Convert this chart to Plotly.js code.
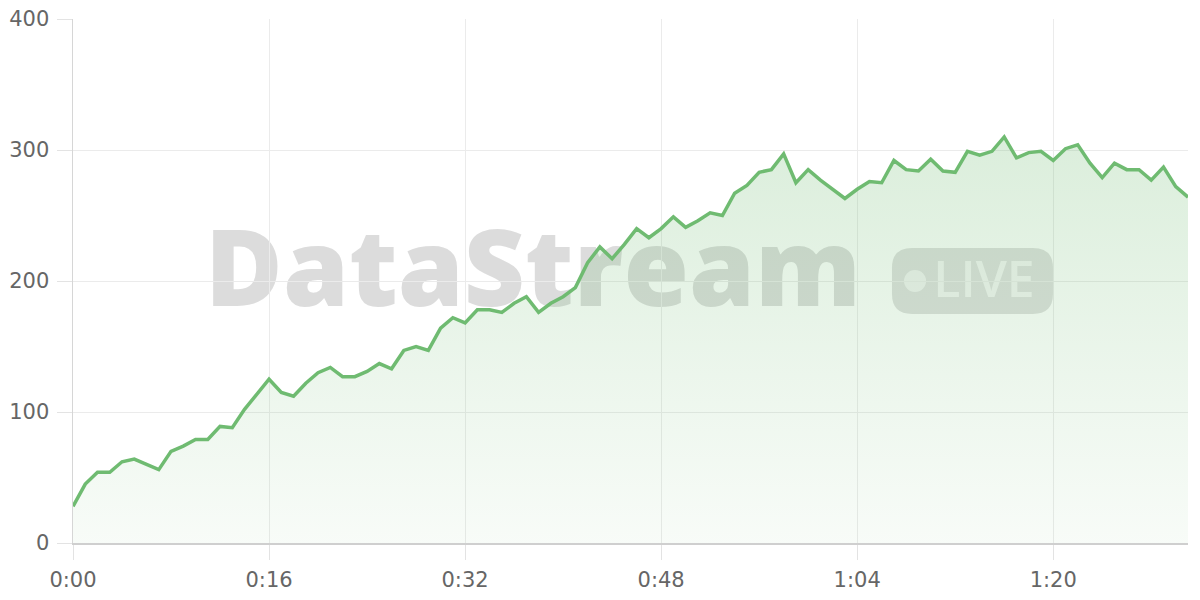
<!DOCTYPE html>
<html>
<head>
<meta charset="utf-8">
<script src="https://cdn.plot.ly/plotly-3.0.1.min.js"></script>
<style>
html,body{margin:0;padding:0;background:#fff;}
#chart{width:1200px;height:600px;}
</style>
</head>
<body>
<div id="chart"></div>
<script>
// elapsed seconds
const seconds = [0,1,2,3,4,5,6,7,8,9,10,11,12,13,14,15,16,17,18,19,20,21,22,23,24,25,26,27,28,29,30,
  31,32,33,34,35,36,37,38,39,40,41,42,43,44,45,46,47,48,49,50,51,52,53,54,55,56,57,58,59,60,
  61,62,63,64,65,66,67,68,69,70,71,72,73,74,75,76,77,78,79,80,81,82,83,84,85,86,87,88,89,90,91];
// streamed values
const values = [28,45,54,54,62,64,60,56,70,74,79,79,89,88,102,113,125,
  115,112,122,130,134,127,127,131,137,133,147,150,147,164,172,168,
  178,178,176,183,188,176,183,188,195,214,226,217,228,240,233,240,
  249,241,246,252,250,267,273,283,285,297,275,285,277,270,263,270,276,275,
  292,285,284,293,284,283,299,296,299,310,294,298,299,292,
  301,304,290,279,290,285,285,277,287,272,264];
const tickVals = [0,16,32,48,64,80];
const tickText = ["0:00","0:16","0:32","0:48","1:04","1:20"];
const yTicks = [0,100,200,300,400];
const watermarkText = "DataStream";
const badgeText = "LIVE";

const green = "#6fbb71";
const tickFontFamily = "'DejaVu Sans', Inter, sans-serif";

const trace = {
  x: seconds,
  y: values,
  type: "scatter",
  mode: "lines",
  line: {color: green, width: 3.5, shape: "linear"},
  fill: "tozeroy",
  fillgradient: {
    type: "vertical",
    start: 0,
    stop: 310,
    colorscale: [[0, "rgba(111,187,113,0.05)"], [1, "rgba(111,187,113,0.25)"]]
  },
  hoverinfo: "skip"
};

// badge geometry (paper coords)
const bx0 = 0.7345, bx1 = 0.8789, by0 = 0.437, by1 = 0.563;
const rx = 0.018, ry = 0.038;
const badgePath = `M ${bx0+rx},${by0} L ${bx1-rx},${by0} Q ${bx1},${by0} ${bx1},${by0+ry} L ${bx1},${by1-ry} Q ${bx1},${by1} ${bx1-rx},${by1} L ${bx0+rx},${by1} Q ${bx0},${by1} ${bx0},${by1-ry} L ${bx0},${by0+ry} Q ${bx0},${by0} ${bx0+rx},${by0} Z`;

const layout = {
  width: 1200,
  height: 600,
  margin: {l: 73, r: 12, t: 19, b: 57},
  paper_bgcolor: "#ffffff",
  plot_bgcolor: "#ffffff",
  showlegend: false,
  font: {family: tickFontFamily, color: "#666666", size: 21},
  xaxis: {
    range: [0, 91],
    tickvals: tickVals,
    ticktext: tickText,
    showgrid: true,
    gridcolor: "#ebebeb",
    gridwidth: 1,
    showline: true,
    linecolor: "#cfcfcf",
    linewidth: 1.5,
    ticks: "outside",
    ticklen: 15,
    tickcolor: "#e3e3e3",
    tickwidth: 1,
    zeroline: false,
    ticklabelstandoff: 2,
    tickfont: {family: tickFontFamily, size: 21, color: "#666666"},
    fixedrange: true
  },
  yaxis: {
    range: [0, 400],
    tickvals: yTicks,
    showgrid: true,
    gridcolor: "#ebebeb",
    gridwidth: 1,
    showline: true,
    linecolor: "#d6d6d6",
    linewidth: 1.5,
    ticks: "outside",
    ticklen: 15,
    tickcolor: "#e3e3e3",
    tickwidth: 1,
    zeroline: false,
    ticklabelstandoff: 3,
    tickfont: {family: tickFontFamily, size: 21, color: "#666666"},
    fixedrange: true
  },
  shapes: [
    {
      type: "rect", xref: "paper", yref: "paper", layer: "between",
      x0: 0.1126, x1: 0.7126, y0: 0.417, y1: 0.617,
      line: {width: 0}, fillcolor: "rgba(0,0,0,0)",
      label: {
        text: watermarkText,
        textposition: "middle center",
        font: {family: "Open Sans", size: 106, color: "rgba(120,120,120,0.26)", weight: 800}
      }
    },
    {
      type: "path", xref: "paper", yref: "paper", layer: "between",
      path: badgePath,
      line: {width: 0}, fillcolor: "rgba(120,120,120,0.24)"
    },
    {
      type: "circle", xref: "paper", yref: "paper", layer: "between",
      x0: 0.7552 - 0.0099, x1: 0.7552 + 0.0099, y0: 0.5 - 0.021, y1: 0.5 + 0.021,
      line: {width: 0}, fillcolor: "rgba(255,255,255,0.6)"
    },
    {
      type: "rect", xref: "paper", yref: "paper", layer: "between",
      x0: 0.757, x1: 0.877, y0: 0.44, y1: 0.56,
      line: {width: 0}, fillcolor: "rgba(0,0,0,0)",
      label: {
        text: badgeText,
        textposition: "middle center",
        font: {family: "Open Sans", size: 50, color: "rgba(255,255,255,0.65)", weight: 600}
      }
    }
  ]
};

Plotly.newPlot("chart", [trace], layout, {displayModeBar: false, staticPlot: true});
</script>
</body>
</html>
